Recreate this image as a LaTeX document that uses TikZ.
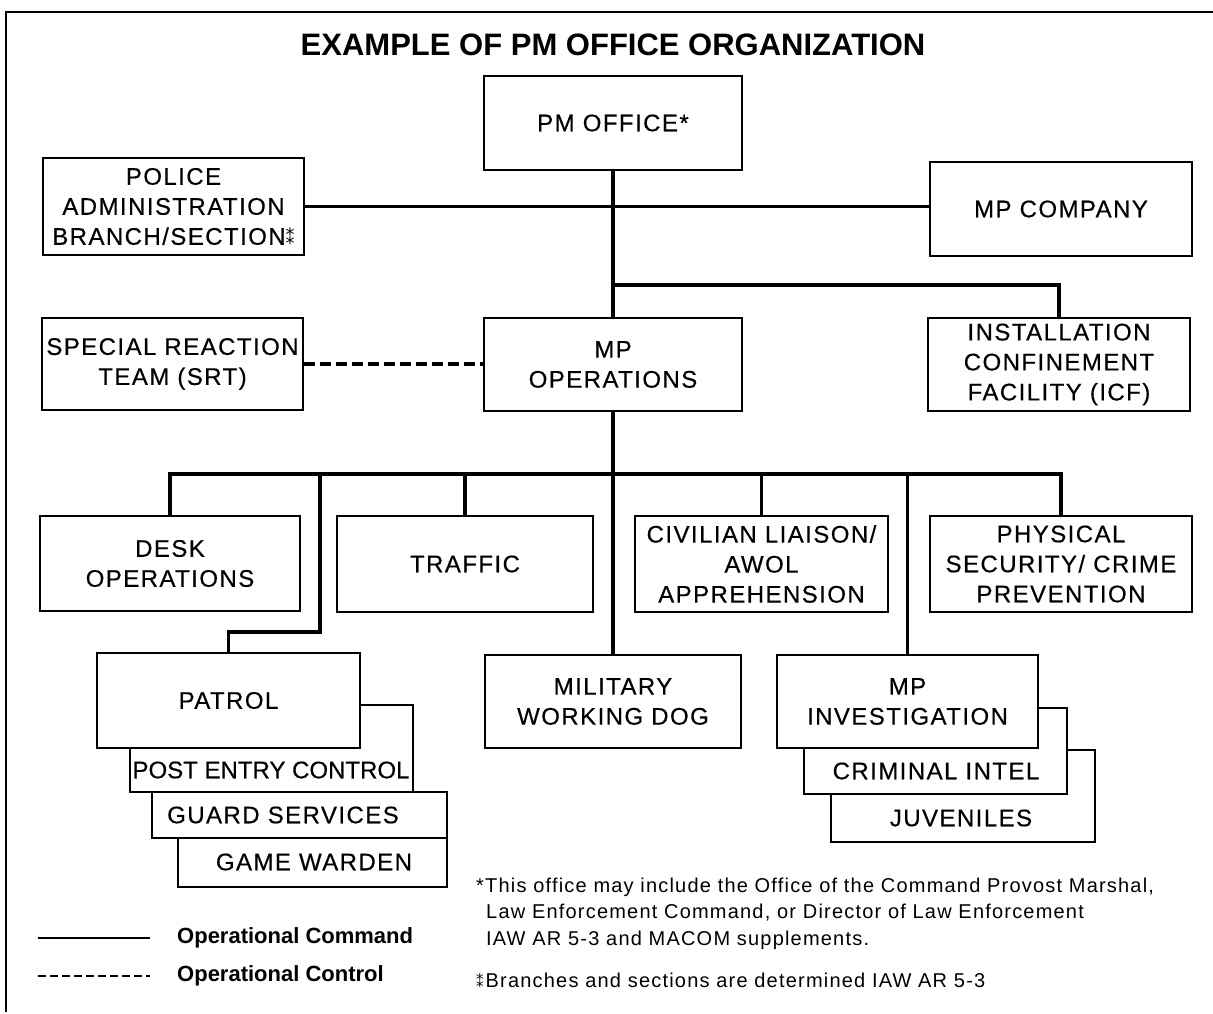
\documentclass[tikz,border=0pt]{standalone}
\usepackage{fontspec}
\setmainfont{Liberation Sans}
\newfontfamily\boxfont[LetterSpace=6,FakeBold=0.4]{Liberation Sans}
\newfontfamily\tightfont[FakeBold=0.4]{Liberation Sans}
\newfontfamily\notefont[LetterSpace=6]{Liberation Sans}
\newfontfamily\djv{DejaVu Sans}
\newcommand{\dstar}{{\djv\scalebox{0.75}{⁑}}}
\begin{document}
\begin{tikzpicture}[x=1pt,y=-1pt,
  box/.style={draw, line width=2pt, fill=white, inner sep=0pt},
  lbl/.style={font=\boxfont\fontsize{24}{30}\selectfont, align=center, inner sep=0pt},
  conn/.style={line width=3.2pt, line join=miter},
  ctrl/.style={line width=3.2pt, dash pattern=on 11pt off 5pt},
  note/.style={font=\notefont\fontsize{20}{22}\selectfont, anchor=west, inner sep=0pt},
  legend/.style={font=\bfseries\fontsize{22}{26}\selectfont, anchor=west, inner sep=0pt}]
\useasboundingbox (0,0) rectangle (1213,1014);
% frame
\draw[line width=1.5pt] (6,1012) -- (6,12) -- (1213,12);
% title
\node[font=\bfseries\fontsize{31}{36}\selectfont, inner sep=0pt] (title) at (613,45) {EXAMPLE OF PM OFFICE ORGANIZATION};
% top level
\node[box, lbl, minimum width=258pt, minimum height=94pt] (pm) at (613,123) {PM OFFICE*};
\node[box, lbl, minimum width=261pt, minimum height=97pt] (police) at (173.5,206.5) {POLICE\\ADMINISTRATION\\BRANCH/SECTION\dstar};
\node[box, lbl, minimum width=262pt, minimum height=94pt] (company) at (1061,209) {MP COMPANY};
\node[box, lbl, minimum width=258pt, minimum height=93pt] (ops) at (613,364.5) {MP\\OPERATIONS};
\node[box, lbl, minimum width=261pt, minimum height=92pt] (srt) at (172.5,364) {SPECIAL REACTION\\TEAM (SRT)};
\node[box, lbl, minimum width=262pt, minimum height=93pt] (icf) at (1059,364.5) {INSTALLATION\\CONFINEMENT\\FACILITY (ICF)};
% second row
\node[box, lbl, minimum width=260pt, minimum height=95pt] (desk) at (170,563.5) {DESK\\OPERATIONS};
\node[box, lbl, minimum width=256pt, minimum height=96pt] (traffic) at (465,564) {TRAFFIC};
\node[box, lbl, minimum width=253pt, minimum height=96pt] (civ) at (761.5,564) {CIVILIAN LIAISON/\\AWOL\\APPREHENSION};
\node[box, lbl, minimum width=262pt, minimum height=96pt] (phys) at (1061,564) {PHYSICAL\\SECURITY/ CRIME\\PREVENTION};
% patrol stack
\node[box, minimum width=269pt, minimum height=49pt] (warden) at (312.5,862.5) {};
\node[lbl] (wardentxt) at (314,862) {GAME WARDEN};
\node[box, minimum width=295pt, minimum height=46pt] (guard) at (299.5,815) {};
\node[lbl] (guardtxt) at (283,815) {GUARD SERVICES};
\node[box, minimum width=283pt, minimum height=87pt] (post) at (271.5,748.5) {};
\node[lbl, font=\tightfont\fontsize{24}{30}\selectfont] (posttxt) at (271,770) {POST ENTRY CONTROL};
\node[box, lbl, minimum width=263pt, minimum height=95pt] (patrol) at (228.5,700.5) {PATROL};
% MWD
\node[box, lbl, minimum width=256pt, minimum height=93pt] (mwd) at (613,701.5) {MILITARY\\WORKING DOG};
% investigation stack
\node[box, minimum width=264pt, minimum height=92pt] (juv) at (963,796) {};
\node[lbl] (juvtxt) at (961,818) {JUVENILES};
\node[box, minimum width=263pt, minimum height=86pt] (crim) at (935.5,751) {};
\node[lbl] (crimtxt) at (936,771) {CRIMINAL INTEL};
\node[box, lbl, minimum width=261pt, minimum height=93pt] (mpinv) at (907.5,701.5) {MP\\INVESTIGATION};
% connectors
\draw[conn] (pm.south) -- (ops.north);
\draw[conn] (police.east) -- (police.east -| company.west);
\coordinate (icfj) at (613,285);
\draw[conn] (icfj) -| (icf.north);
\draw[ctrl] (srt.east) -- (srt.east -| ops.west);
\draw[conn] (ops.south) -- (mwd.north);
\coordinate (busL) at (170,474);
\coordinate (busR) at (1061,474);
\draw[conn] (desk.north) -- (busL) -- (busR) -- (phys.north);
\draw[conn] (traffic.north |- busL) -- (traffic.north);
\draw[conn] (civ.north |- busL) -- (civ.north);
\draw[conn] (mpinv.north |- busL) -- (mpinv.north);
\coordinate (pj) at (320,474);
\coordinate (pk) at (320,632);
\draw[conn] (pj) -- (pk) -| (patrol.north);
% legend
\coordinate (la1) at (38,938);
\coordinate (lb1) at (150,938);
\draw[line width=2pt] (la1) -- (lb1);
\node[legend] (lcmd) at (177,938) {Operational Command};
\coordinate (la2) at (38,976);
\coordinate (lb2) at (150,976);
\draw[line width=2pt, dash pattern=on 8pt off 4pt] (la2) -- (lb2);
\node[legend] (lctl) at (177,976) {Operational Control};
% footnotes
\node[note] (fn1) at (476,887) {*This office may include the Office of the Command Provost Marshal,};
\node[note] (fn2) at (486,913) {Law Enforcement Command, or Director of Law Enforcement};
\node[note] (fn3) at (486,940) {IAW AR 5-3 and MACOM supplements.};
\node[note] (fn4) at (476,980) {\dstar\hspace{2pt}Branches and sections are determined IAW AR 5-3};
\end{tikzpicture}
\end{document}
